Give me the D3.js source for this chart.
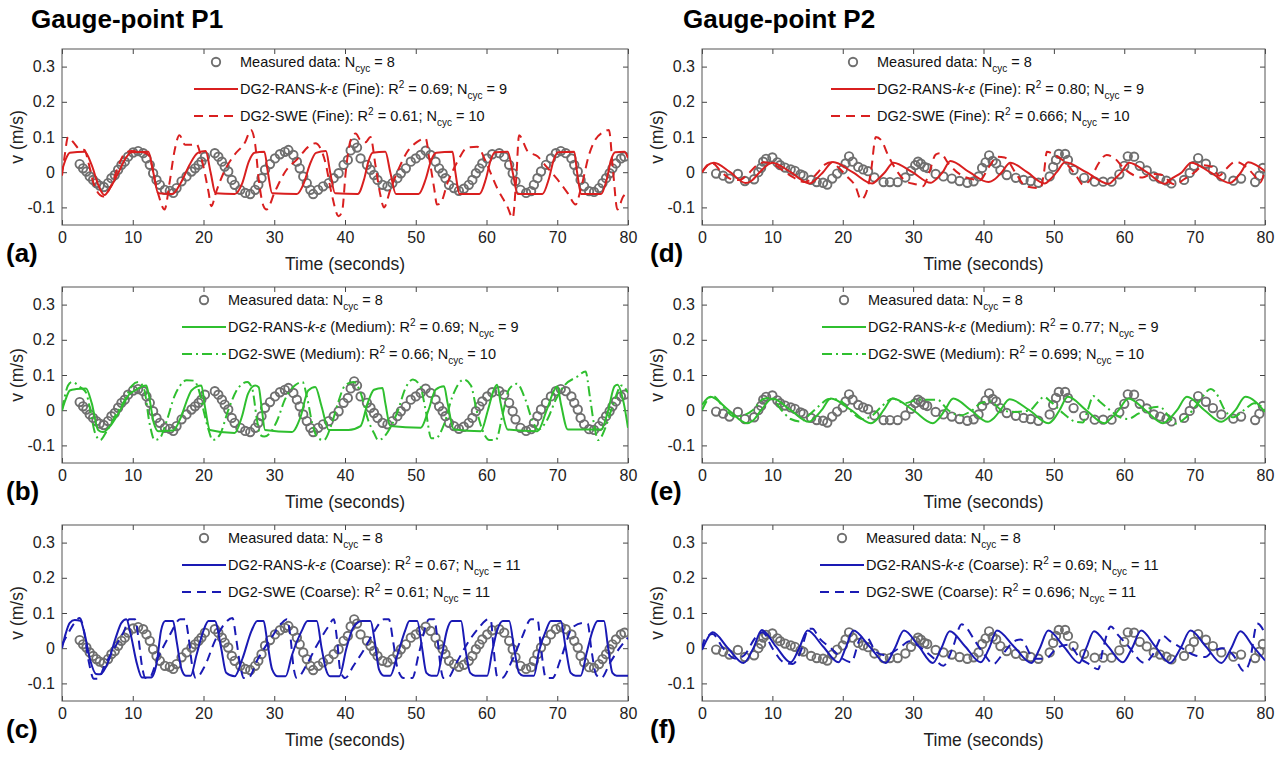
<!DOCTYPE html>
<html>
<head>
<meta charset="utf-8">
<script src="https://cdn.jsdelivr.net/npm/d3@7"></script>
<style>
  body { margin: 0; background: #fff; }
  svg { font-family: "Liberation Sans", Arial, sans-serif; }
  text { white-space: pre; }
</style>
</head>
<body>
<svg id="chart" width="1288" height="769"></svg>
<script>
// ticks
const timeTicks = [0, 10, 20, 30, 40, 50, 60, 70, 80];
const velTicks = [-0.1, 0, 0.1, 0.2, 0.3];

// measured velocity, [time s, v m/s]
const measuredP1 = [[2.5,0.023],[2.97,0.011],[3.45,0.002],[3.92,-0.012],[4.39,-0.022],[4.86,-0.031],[5.33,-0.038],[5.9,-0.042],[6.51,-0.031],[6.98,-0.017],[7.46,-0.008],[7.93,0.007],[8.4,0.021],[8.87,0.03],[9.34,0.044],[10.05,0.056],[10.76,0.06],[11.47,0.054],[11.94,0.039],[12.41,0.021],[12.88,-0.003],[13.36,-0.022],[13.83,-0.036],[14.54,-0.05],[15.24,-0.053],[15.72,-0.059],[16.19,-0.045],[16.9,-0.026],[17.6,-0.012],[18.3,0.002],[18.8,0.011],[19.3,0.021],[19.7,0.03],[20.2,0.044],[21.6,0.054],[22.1,0.044],[22.6,0.03],[23.0,0.016],[23.5,0.002],[24.0,-0.022],[24.4,-0.036],[25.2,-0.05],[25.9,-0.059],[26.6,-0.062],[27.3,-0.05],[27.75,-0.036],[28.2,-0.017],[28.7,0.007],[29.4,0.023],[30.1,0.039],[30.8,0.051],[31.5,0.058],[32.0,0.063],[32.7,0.049],[33.2,0.03],[33.6,0.011],[34.1,-0.012],[34.6,-0.031],[35.1,-0.05],[35.5,-0.062],[36.2,-0.05],[36.9,-0.04],[37.7,-0.031],[38.4,-0.017],[39.1,-0.003],[39.8,0.021],[40.4,0.035],[40.8,0.062],[41.3,0.082],[41.7,0.07],[42.2,0.039],[43.1,0.021],[43.6,0.007],[44.1,-0.008],[44.6,-0.022],[45.3,-0.036],[46.0,-0.04],[46.7,-0.031],[47.4,-0.017],[47.9,-0.003],[48.6,0.011],[49.3,0.03],[50.0,0.039],[50.7,0.049],[51.4,0.061],[52.1,0.049],[52.8,0.03],[53.3,0.011],[53.8,-0.003],[54.2,-0.017],[54.7,-0.036],[55.4,-0.045],[56.1,-0.053],[56.8,-0.047],[57.5,-0.036],[58.0,-0.022],[58.5,-0.003],[59.0,0.011],[59.4,0.025],[60.1,0.039],[60.8,0.051],[61.8,0.054],[62.5,0.044],[63.2,0.021],[63.7,-0.003],[64.1,-0.026],[64.8,-0.05],[65.6,-0.059],[66.3,-0.054],[66.7,-0.036],[67.2,-0.017],[67.7,0.002],[68.4,0.021],[69.1,0.039],[69.8,0.054],[70.5,0.06],[71.2,0.054],[72.0,0.039],[72.4,0.021],[72.9,0.002],[73.3,-0.022],[73.8,-0.04],[74.5,-0.054],[75.2,-0.056],[75.9,-0.045],[76.4,-0.031],[76.9,-0.017],[77.4,-0.003],[77.8,0.011],[78.3,0.025],[79.0,0.039],[79.5,0.044]];

const measuredP2 = [[2.0,-0.004],[3.0,-0.01],[3.9,-0.018],[5.1,-0.005],[6.1,-0.025],[7.4,-0.02],[8.0,0.0],[8.4,0.012],[8.7,0.03],[9.1,0.038],[10.0,0.042],[10.7,0.028],[11.1,0.02],[11.8,0.013],[12.6,0.008],[13.2,0.004],[14.0,-0.006],[14.4,-0.01],[15.5,-0.022],[16.3,-0.028],[17.2,-0.03],[17.8,-0.035],[18.5,-0.018],[19.2,-0.004],[20.0,0.008],[20.4,0.025],[20.9,0.045],[21.4,0.03],[22.2,0.015],[22.9,0.008],[23.6,0.003],[24.5,-0.015],[25.8,-0.028],[26.7,-0.028],[27.8,-0.028],[28.9,-0.015],[29.7,0.004],[30.3,0.02],[30.7,0.03],[31.1,0.024],[31.6,0.015],[32.0,0.012],[33.2,-0.005],[34.3,-0.012],[35.5,-0.018],[36.6,-0.025],[37.7,-0.03],[38.6,-0.026],[39.3,-0.012],[39.8,0.012],[40.3,0.028],[40.8,0.048],[41.3,0.032],[41.8,0.025],[42.4,0.006],[43.3,-0.008],[44.6,-0.016],[45.7,-0.022],[46.7,-0.025],[47.8,-0.03],[49.4,-0.012],[49.9,0.015],[50.3,0.035],[50.7,0.052],[51.6,0.052],[52.0,0.035],[52.8,0.006],[54.3,-0.016],[55.8,-0.027],[57.0,-0.027],[58.2,-0.027],[59.3,-0.006],[60.0,0.018],[60.5,0.045],[61.4,0.044],[62.2,0.018],[63.2,0.005],[64.2,-0.012],[65.1,-0.018],[66.0,-0.024],[66.7,-0.032],[68.5,-0.022],[69.3,-0.002],[69.9,0.018],[70.5,0.04],[71.6,0.024],[72.6,0.006],[73.8,-0.012],[75.5,-0.024],[76.6,-0.018],[78.6,-0.028],[79.2,-0.01],[79.7,0.012]];

// model runs at gauge P1
const ransFineP1 = [[0,0.005],[0.6,0.04],[1.1,0.055],[3.2,0.058],[4.2,0.02],[5.2,-0.04],[6.0,-0.065],[6.8,-0.045],[8.0,0.0],[9.0,0.04],[9.8,0.057],[12.2,0.058],[12.9,0.0],[13.6,-0.06],[15.6,-0.062],[16.8,-0.03],[18.0,0.02],[19.2,0.055],[20.3,0.06],[21.0,0.0],[21.7,-0.06],[24.4,-0.062],[25.5,-0.03],[26.4,0.03],[27.2,0.055],[28.6,0.058],[29.1,0.0],[29.7,-0.06],[33.2,-0.062],[34.2,-0.03],[35.0,0.02],[35.9,0.055],[37.3,0.06],[37.9,0.0],[38.6,-0.06],[41.8,-0.062],[42.7,-0.02],[43.3,0.03],[43.9,0.055],[45.7,0.058],[46.4,0.0],[47.2,-0.062],[50.4,-0.062],[51.4,-0.02],[52.2,0.035],[52.9,0.055],[55.2,0.058],[55.6,0.0],[56.2,-0.062],[59.0,-0.062],[59.9,-0.02],[60.6,0.035],[61.2,0.057],[63.0,0.058],[63.7,0.0],[64.4,-0.062],[67.9,-0.062],[68.8,-0.02],[69.5,0.035],[70.1,0.057],[72.4,0.058],[72.8,0.0],[73.4,-0.062],[76.2,-0.062],[77.0,-0.02],[77.6,0.035],[78.2,0.057],[79.5,0.058],[80,0.04]];
const sweFineP1 = [[0,-0.01],[0.4,0.05],[0.85,0.1],[1.6,0.085],[2.5,0.065],[3.2,0.063],[3.7,0.03],[4.6,-0.04],[5.8,-0.069],[6.9,-0.04],[8.2,0.03],[8.9,0.054],[9.8,0.06],[11.2,0.058],[12.2,0.05],[13.5,-0.055],[14.5,-0.106],[15.2,-0.03],[15.9,0.06],[16.6,0.105],[17.4,0.078],[18.3,0.078],[19.0,0.08],[19.7,0.04],[20.7,-0.055],[21.1,-0.097],[21.8,-0.055],[23.0,0.005],[24.4,0.05],[25.9,0.086],[26.7,0.12],[27.3,0.08],[27.8,-0.02],[28.5,-0.097],[28.9,-0.106],[30.1,-0.055],[31.5,0.0],[33.4,0.04],[34.8,0.072],[35.8,0.082],[37.2,0.03],[38.1,-0.06],[39.1,-0.125],[39.6,-0.11],[40.1,0.0],[40.8,0.091],[41.5,0.11],[42.2,0.09],[42.9,0.085],[43.6,0.1],[44.3,0.02],[45.0,-0.065],[45.5,-0.1],[46.4,-0.05],[47.6,0.01],[48.8,0.058],[50.2,0.086],[51.4,0.096],[51.9,0.04],[52.6,-0.045],[53.0,-0.092],[53.5,-0.088],[54.5,-0.03],[55.9,0.03],[57.3,0.07],[58.7,0.072],[60.1,0.02],[61.5,-0.045],[63.0,-0.1],[63.7,-0.13],[64.2,-0.02],[64.6,0.105],[65.8,0.06],[67.2,0.045],[68.5,0.015],[70.0,-0.02],[71.5,-0.06],[72.6,-0.092],[73.3,-0.05],[74.5,0.05],[75.2,0.086],[76.6,0.115],[77.3,0.12],[77.9,0.0],[78.5,-0.106],[79.3,-0.07],[80,-0.055]];
const ransMediumP1 = [[0,0.0],[0.5,0.03],[1.1,0.056],[2.0,0.06],[3.4,0.062],[4.2,0.02],[5.1,-0.056],[5.8,-0.062],[7.0,-0.04],[8.5,0.01],[9.5,0.045],[10.3,0.056],[11.9,0.07],[12.2,0.05],[13.0,-0.038],[13.6,-0.06],[15.7,-0.058],[16.8,-0.02],[17.8,0.035],[18.3,0.056],[19.7,0.07],[20.2,0.01],[20.9,-0.056],[24.4,-0.065],[25.4,-0.02],[26.3,0.047],[27.3,0.07],[27.8,0.065],[28.2,0.01],[28.7,-0.056],[32.5,-0.062],[33.7,-0.02],[34.8,0.056],[35.8,0.066],[36.7,0.01],[37.7,-0.056],[40.5,-0.056],[42.2,-0.045],[43.2,0.02],[44.1,0.058],[45.3,0.063],[45.7,0.02],[46.4,-0.045],[50.7,-0.05],[51.8,0.0],[52.8,0.058],[54.0,0.068],[54.5,0.02],[55.4,-0.055],[59.2,-0.06],[60.2,0.0],[61.1,0.061],[61.5,0.072],[62.0,0.02],[63.0,-0.055],[67.2,-0.06],[68.5,0.0],[69.6,0.058],[70.0,0.068],[70.5,0.02],[71.5,-0.055],[76.2,-0.055],[77.2,0.0],[78.1,0.068],[78.5,0.072],[79.4,0.02],[80,-0.05]];
const sweMediumP1 = [[0,0.0],[0.4,0.04],[0.85,0.07],[1.4,0.08],[2.6,0.065],[3.4,0.05],[4.0,0.0],[4.6,-0.06],[5.4,-0.085],[6.3,-0.06],[7.7,-0.01],[8.9,0.03],[9.9,0.07],[10.8,0.08],[11.6,0.06],[12.4,-0.04],[13.1,-0.085],[13.8,-0.08],[14.8,-0.03],[15.9,0.04],[16.7,0.07],[17.6,0.085],[18.6,0.084],[19.3,0.06],[20.0,0.0],[20.7,-0.055],[21.3,-0.085],[22.3,-0.07],[23.5,0.0],[24.8,0.06],[26.2,0.08],[26.9,0.06],[27.5,-0.02],[28.0,-0.07],[28.6,-0.075],[30.4,-0.03],[31.5,0.03],[32.9,0.07],[34.0,0.08],[34.6,0.04],[35.4,-0.04],[36.2,-0.08],[37.0,-0.085],[38.1,-0.04],[39.0,0.02],[40.0,0.07],[41.2,0.08],[42.2,0.05],[43.3,-0.03],[44.1,-0.065],[44.7,-0.085],[46.4,-0.05],[47.5,0.0],[48.5,0.06],[49.6,0.087],[50.6,0.07],[51.4,0.0],[52.2,-0.08],[52.8,-0.08],[54.0,-0.04],[55.2,0.04],[56.8,0.087],[57.8,0.07],[58.6,0.0],[59.5,-0.06],[60.4,-0.085],[61.3,-0.085],[62.3,-0.01],[63.2,0.06],[64.3,0.075],[65.5,0.03],[66.5,-0.03],[67.3,-0.055],[68.5,-0.03],[69.8,0.03],[71.0,0.07],[72.8,0.095],[74.0,0.11],[74.6,0.04],[75.2,-0.04],[75.8,-0.085],[76.8,-0.05],[77.8,0.01],[79.1,0.07],[80,0.05]];
const ransCoarseP1 = [[0,0.0],[0.5,0.04],[1.1,0.072],[1.8,0.08],[2.6,0.078],[3.2,0.04],[4.0,-0.035],[4.8,-0.073],[5.4,-0.074],[6.5,-0.04],[7.6,0.03],[8.4,0.072],[9.1,0.082],[9.7,0.04],[10.6,-0.045],[11.3,-0.083],[12.6,-0.083],[13.4,-0.04],[14.0,0.05],[14.6,0.077],[15.7,0.077],[16.2,0.02],[16.9,-0.06],[17.5,-0.078],[18.2,-0.078],[19.0,-0.02],[20.0,0.05],[20.7,0.077],[21.6,0.077],[22.5,0.0],[23.2,-0.07],[24.4,-0.08],[25.5,-0.03],[26.8,0.05],[27.6,0.077],[28.5,0.077],[29.0,0.02],[29.7,-0.06],[30.5,-0.08],[31.6,-0.08],[32.5,-0.02],[33.9,0.05],[34.7,0.077],[36.0,0.077],[36.7,0.0],[37.3,-0.06],[37.9,-0.08],[39.2,-0.08],[40.2,0.0],[41.2,0.06],[42.4,0.077],[43.6,0.077],[44.2,0.02],[44.8,-0.06],[45.5,-0.078],[46.4,-0.078],[47.4,-0.02],[48.5,0.05],[49.1,0.077],[50.2,0.077],[50.9,0.0],[51.5,-0.07],[52.2,-0.078],[53.0,-0.078],[53.7,-0.02],[54.4,0.05],[55.1,0.077],[56.4,0.077],[57.0,0.0],[57.7,-0.07],[58.4,-0.078],[60.1,-0.078],[60.8,-0.01],[61.5,0.05],[62.3,0.077],[63.2,0.077],[63.9,0.0],[64.6,-0.07],[65.2,-0.078],[66.7,-0.078],[67.4,-0.01],[68.4,0.05],[69.1,0.077],[70.5,0.077],[71.2,0.0],[71.9,-0.07],[72.6,-0.078],[73.3,-0.078],[74.2,-0.01],[75.0,0.05],[75.7,0.077],[76.6,0.077],[77.2,0.0],[77.8,-0.07],[78.4,-0.078],[80,-0.078]];
const sweCoarseP1 = [[0,0.01],[0.8,0.04],[1.7,0.07],[2.5,0.086],[3.0,0.06],[3.8,-0.04],[4.5,-0.087],[5.1,-0.087],[6.0,-0.05],[7.4,0.0],[8.8,0.05],[9.5,0.082],[10.3,0.082],[10.8,0.03],[11.3,-0.05],[11.8,-0.085],[12.3,-0.085],[13.5,-0.03],[15.3,0.04],[16.7,0.082],[17.4,0.082],[17.9,0.03],[18.4,-0.05],[18.9,-0.085],[20.2,-0.05],[21.6,0.02],[23.0,0.07],[24.1,0.086],[24.6,0.03],[25.2,-0.05],[25.7,-0.085],[26.3,-0.085],[27.7,-0.03],[29.6,0.03],[31.0,0.07],[31.8,0.082],[32.3,0.03],[32.7,-0.05],[33.2,-0.085],[34.5,-0.05],[35.8,0.0],[37.6,0.06],[38.4,0.082],[38.9,0.02],[39.3,-0.06],[40.0,-0.085],[41.2,-0.05],[42.8,0.0],[44.2,0.05],[45.5,0.082],[46.2,0.082],[46.8,0.02],[47.4,-0.055],[48.3,-0.085],[49.5,-0.085],[50.5,-0.01],[51.9,0.082],[52.6,0.082],[53.1,0.02],[53.5,-0.05],[53.9,-0.085],[54.5,-0.085],[55.8,-0.04],[57.5,0.02],[59.0,0.06],[60.2,0.082],[60.6,0.08],[61.0,0.0],[61.5,-0.08],[62.2,-0.085],[63.5,-0.04],[65.0,0.03],[66.3,0.082],[67.2,0.082],[67.7,0.0],[68.4,-0.085],[69.3,-0.085],[70.5,-0.03],[72.2,0.06],[73.8,0.072],[74.3,0.07],[74.8,0.0],[75.5,-0.075],[76.2,-0.085],[77.5,-0.04],[78.8,0.0],[80,0.03]];

// model runs at gauge P2
const ransFineP2 = [[0,0.0],[0.8,0.02],[1.7,0.027],[4.0,0.0],[6.2,-0.031],[7.0,-0.025],[8.2,0.0],[10.0,0.027],[12.6,0.0],[15.3,-0.032],[16.2,-0.02],[17.2,0.0],[18.6,0.029],[21.4,0.0],[24.2,-0.032],[25.0,-0.02],[26.0,0.0],[27.2,0.027],[29.9,0.0],[32.5,-0.03],[33.4,-0.018],[34.2,0.0],[35.3,0.032],[38.0,0.0],[40.7,-0.028],[41.6,-0.02],[42.6,0.0],[43.8,0.027],[46.2,0.0],[48.7,-0.032],[49.5,-0.02],[50.4,0.0],[51.6,0.028],[54.6,0.0],[57.8,-0.033],[58.6,-0.02],[59.6,0.0],[60.7,0.027],[63.2,0.0],[65.8,-0.033],[66.6,-0.02],[68.2,0.0],[69.5,0.027],[72.2,0.0],[75.0,-0.031],[75.8,-0.02],[76.6,0.0],[77.6,0.028],[80,0.003]];
const sweFineP2 = [[0,0.0],[0.8,0.02],[1.5,0.025],[2.8,0.0],[4.2,-0.02],[5.3,-0.022],[6.3,-0.01],[7.7,0.018],[8.8,0.028],[9.8,0.025],[11.5,0.005],[13.0,-0.015],[14.5,-0.028],[15.5,-0.02],[16.5,0.0],[17.5,0.022],[18.4,0.028],[19.3,0.015],[20.5,-0.01],[21.8,-0.04],[22.6,-0.078],[23.3,-0.06],[24.0,0.0],[24.7,0.1],[25.5,0.09],[26.4,0.05],[27.3,0.016],[29.0,-0.026],[30.5,-0.035],[31.4,-0.04],[32.3,0.0],[33.2,0.05],[33.8,0.054],[35.2,0.02],[36.8,-0.008],[38.5,-0.02],[39.5,-0.022],[40.8,0.016],[42.0,0.044],[43.0,0.042],[44.5,0.0],[46.0,-0.04],[48.1,-0.045],[48.6,0.0],[49.0,0.058],[50.1,0.049],[51.5,0.03],[53.1,-0.008],[54.2,-0.036],[55.2,-0.02],[56.2,0.02],[57.5,0.049],[58.6,0.04],[60.0,0.01],[61.5,-0.01],[62.6,-0.015],[64.0,-0.005],[65.4,-0.008],[66.6,-0.03],[67.3,-0.035],[68.5,-0.02],[70.0,0.0],[71.3,0.02],[72.5,0.015],[73.5,-0.01],[74.5,0.01],[75.8,0.03],[77.0,0.02],[78.5,-0.01],[79.3,-0.03],[80,0.01]];
const ransMediumP2 = [[0,0.015],[1.2,0.038],[3.8,0.0],[6.4,-0.037],[7.2,-0.03],[8.4,0.0],[10.0,0.033],[12.6,0.0],[15.2,-0.033],[16.0,-0.022],[17.0,0.0],[18.3,0.033],[21.2,0.0],[24.0,-0.037],[24.9,-0.025],[25.8,0.0],[27.1,0.033],[30.0,0.0],[32.8,-0.037],[33.6,-0.025],[34.5,0.0],[35.7,0.033],[38.2,0.0],[40.6,-0.033],[41.5,-0.022],[42.4,0.0],[43.7,0.031],[46.5,0.0],[49.2,-0.037],[50.0,-0.025],[50.8,0.0],[52.0,0.038],[54.6,0.0],[57.2,-0.037],[58.0,-0.025],[59.2,0.0],[60.6,0.033],[63.0,0.0],[65.5,-0.037],[66.4,-0.025],[67.5,0.0],[68.9,0.038],[71.4,0.0],[73.8,-0.033],[74.7,-0.022],[75.8,0.0],[77.2,0.038],[80,-0.005]];
const sweMediumP2 = [[0,0.0],[0.8,0.03],[1.6,0.04],[3.0,0.01],[4.6,-0.018],[5.8,-0.015],[7.2,0.0],[8.7,0.032],[9.8,0.035],[11.3,0.0],[12.6,-0.025],[14.0,-0.032],[15.4,-0.01],[16.8,0.015],[18.0,0.032],[19.4,0.03],[21.0,0.0],[22.8,-0.025],[24.2,-0.015],[25.5,0.01],[27.1,0.033],[28.8,0.02],[30.8,0.03],[33.4,0.03],[35.0,0.0],[36.7,-0.015],[38.4,0.0],[39.6,0.02],[41.0,0.025],[42.6,0.0],[44.5,-0.005],[46.6,0.0],[47.8,0.025],[48.6,0.038],[49.5,0.025],[51.4,-0.01],[53.1,-0.033],[54.1,-0.035],[54.8,0.0],[55.6,0.04],[56.5,0.025],[58.0,0.0],[59.4,-0.02],[60.5,-0.025],[62.0,-0.01],[63.5,0.005],[65.0,0.01],[66.6,-0.025],[67.3,-0.038],[68.8,-0.02],[70.5,0.02],[72.3,0.06],[73.0,0.05],[74.3,0.0],[75.5,-0.02],[77.0,0.0],[78.5,0.02],[80,0.0]];
const ransCoarseP2 = [[0,-0.005],[0.7,0.025],[1.5,0.045],[3.7,0.0],[5.9,-0.042],[7.3,0.0],[8.5,0.052],[10.5,0.005],[12.6,-0.04],[13.8,0.0],[15.0,0.05],[17.2,0.005],[19.4,-0.04],[20.4,0.0],[21.5,0.05],[23.8,0.005],[26.1,-0.042],[27.4,0.0],[28.7,0.05],[30.8,0.005],[32.8,-0.042],[34.0,0.0],[35.2,0.048],[37.4,0.005],[39.6,-0.04],[40.8,0.0],[41.9,0.05],[44.3,0.005],[46.8,-0.042],[48.0,0.0],[49.2,0.05],[51.4,0.005],[53.6,-0.042],[54.6,0.0],[55.7,0.048],[57.7,0.005],[59.8,-0.04],[61.1,0.0],[62.4,0.05],[64.4,0.005],[66.5,-0.042],[68.0,0.0],[69.4,0.05],[71.6,0.005],[73.8,-0.042],[75.2,0.0],[76.5,0.048],[78.3,0.005],[80,-0.035]];
const sweCoarseP2 = [[0,0.0],[0.5,0.03],[1.5,0.04],[3.0,0.0],[4.8,-0.03],[6.0,-0.02],[7.6,0.03],[8.6,0.045],[10.0,0.0],[11.6,-0.04],[12.9,-0.045],[14.0,-0.01],[15.2,0.055],[15.7,0.055],[16.6,0.03],[18.3,0.0],[20.0,-0.03],[21.2,-0.04],[22.6,0.03],[23.4,0.03],[24.7,-0.01],[26.0,-0.02],[28.0,0.0],[29.5,0.02],[31.2,0.0],[33.0,-0.03],[34.3,-0.05],[35.6,0.0],[36.9,0.068],[37.5,0.06],[38.8,0.02],[40.2,-0.02],[41.4,-0.045],[42.6,-0.02],[44.4,0.02],[45.3,0.025],[47.2,-0.03],[48.8,-0.03],[50.4,0.0],[52.0,0.01],[53.8,-0.03],[55.0,-0.045],[56.3,-0.06],[57.0,0.0],[58.1,0.062],[59.0,0.04],[60.4,0.01],[62.9,-0.042],[64.0,-0.02],[65.5,0.035],[66.5,0.02],[68.2,0.0],[70.0,-0.02],[71.5,-0.025],[72.5,-0.01],[74.0,0.0],[75.5,-0.02],[77.0,-0.065],[77.8,-0.04],[78.9,0.07],[79.5,0.06],[80,0.04]];

// legend numbers per panel (a)..(f)
const panelLetters = ["(a)", "(b)", "(c)", "(d)", "(e)", "(f)"];
const meshNames = ["Fine", "Medium", "Coarse", "Fine", "Medium", "Coarse"];
const ransR2 = ["0.69", "0.69", "0.67", "0.80", "0.77", "0.69"];
const ransNcyc = ["9", "9", "11", "9", "9", "11"];
const sweR2 = ["0.61", "0.66", "0.61", "0.666", "0.699", "0.696"];
const sweNcyc = ["10", "10", "11", "10", "10", "11"];
const measuredNcyc = "8";

const ransSeries = [ransFineP1, ransMediumP1, ransCoarseP1, ransFineP2, ransMediumP2, ransCoarseP2];
const sweSeries = [sweFineP1, sweMediumP1, sweCoarseP1, sweFineP2, sweMediumP2, sweCoarseP2];
const measuredSeries = [measuredP1, measuredP1, measuredP1, measuredP2, measuredP2, measuredP2];

// layout
const colX = [[62, 628], [702, 1265]];
const rowTop = [49, 287, 525];
const boxH = 176;
const legendLeft = [194, 182, 182, 831, 822, 820];
const meshColors = ["#d91f1f", "#2fbf2f", "#1a1ab4"];
const sweDashes = ["9,6", "10,4,2,4", "9,6"];
const markerColor = "#6f6f6f";

const svg = d3.select("#chart");

svg.append("text").attr("x", 31).attr("y", 28)
  .attr("font-size", 26).attr("font-weight", "bold").text("Gauge-point P1");
svg.append("text").attr("x", 683).attr("y", 28)
  .attr("font-size", 26).attr("font-weight", "bold").text("Gauge-point P2");

function richText(g, x, y, parts) {
  const t = g.append("text").attr("x", x).attr("y", y).attr("font-size", 14.5).attr("fill", "#111");
  let shift = 0;
  parts.forEach(([str, kind]) => {
    const target = kind === "sup" ? -6 : kind === "sub" ? 5 : 0;
    const sp = t.append("tspan").attr("dy", target - shift).text(str);
    shift = target;
    if (kind === "sup" || kind === "sub") sp.attr("font-size", 10);
    if (kind === "it") sp.attr("font-style", "italic");
  });
}

for (let p = 0; p < 6; p++) {
  const col = p < 3 ? 0 : 1;
  const row = p % 3;
  const [x0, x1] = colX[col];
  const y0 = rowTop[row], y1 = y0 + boxH;
  const color = meshColors[row];

  const x = d3.scaleLinear().domain([0, 80]).range([x0, x1]);
  const y = d3.scaleLinear().domain([-0.15, 0.35]).range([y1, y0]);

  const g = svg.append("g");

  g.append("clipPath").attr("id", "clip" + p)
    .append("rect").attr("x", x0).attr("y", y0).attr("width", x1 - x0).attr("height", boxH);

  // axes
  const styleAxis = sel => {
    sel.select(".domain").remove();
    sel.selectAll(".tick line").attr("stroke", "#444");
    sel.selectAll(".tick text").attr("fill", "#222");
    sel.attr("font-family", null).attr("font-size", 16);
  };
  g.append("g").attr("transform", `translate(0,${y1})`)
    .call(d3.axisBottom(x).tickValues(timeTicks).tickSizeInner(-5).tickSizeOuter(0).tickPadding(7))
    .call(styleAxis);
  g.append("g").attr("transform", `translate(0,${y0})`)
    .call(d3.axisTop(x).tickValues(timeTicks).tickSizeInner(-5).tickSizeOuter(0).tickFormat(""))
    .call(styleAxis);
  g.append("g").attr("transform", `translate(${x0},0)`)
    .call(d3.axisLeft(y).tickValues(velTicks).tickSizeInner(-5).tickSizeOuter(0).tickPadding(7).tickFormat(d => String(d)))
    .call(styleAxis);
  g.append("g").attr("transform", `translate(${x1},0)`)
    .call(d3.axisRight(y).tickValues(velTicks).tickSizeInner(-5).tickSizeOuter(0).tickFormat(""))
    .call(styleAxis);

  g.append("rect").attr("x", x0).attr("y", y0).attr("width", x1 - x0).attr("height", boxH)
    .attr("fill", "none").attr("stroke", "#555").attr("stroke-width", 1);

  // axis titles and panel letter
  g.append("text").attr("x", (x0 + x1) / 2).attr("y", y1 + 45)
    .attr("text-anchor", "middle").attr("font-size", 17.5).attr("fill", "#222").text("Time (seconds)");
  g.append("text")
    .attr("transform", `translate(${x0 - 39},${(y0 + y1) / 2}) rotate(-90)`)
    .attr("text-anchor", "middle").attr("font-size", 17.5).attr("fill", "#222").text("v (m/s)");
  g.append("text").attr("x", col === 0 ? 6 : 650).attr("y", y1 + 37)
    .attr("font-size", 26).attr("font-weight", "bold").text(panelLetters[p]);

  // data
  const plot = g.append("g").attr("clip-path", `url(#clip${p})`);

  plot.selectAll("circle").data(measuredSeries[p]).enter().append("circle")
    .attr("cx", d => x(d[0])).attr("cy", d => y(d[1])).attr("r", 4.2)
    .attr("fill", "none").attr("stroke", markerColor).attr("stroke-width", 1.9);

  const line = d3.line().x(d => x(d[0])).y(d => y(d[1])).curve(d3.curveMonotoneX);

  plot.append("path").datum(ransSeries[p]).attr("d", line)
    .attr("fill", "none").attr("stroke", color).attr("stroke-width", 2);
  plot.append("path").datum(sweSeries[p]).attr("d", line)
    .attr("fill", "none").attr("stroke", color).attr("stroke-width", 2)
    .attr("stroke-dasharray", sweDashes[row]);

  // legend
  const L = legendLeft[p];
  const r1 = y0 + 13, r2 = y0 + 40, r3 = y0 + 67;
  const leg = g.append("g");
  leg.append("circle").attr("cx", L + 22).attr("cy", r1).attr("r", 4.2)
    .attr("fill", "none").attr("stroke", markerColor).attr("stroke-width", 1.9);
  richText(leg, L + 46, r1 + 5, [["Measured data: N", ""], ["cyc", "sub"], [" = " + measuredNcyc, ""]]);
  leg.append("line").attr("x1", L).attr("x2", L + 44).attr("y1", r2).attr("y2", r2)
    .attr("stroke", color).attr("stroke-width", 2);
  richText(leg, L + 46, r2 + 5, [["DG2-RANS-", ""], ["k", "it"], ["-", ""], ["ε", "it"],
    [" (" + meshNames[p] + "): R", ""], ["2", "sup"], [" = " + ransR2[p] + "; N", ""], ["cyc", "sub"], [" = " + ransNcyc[p], ""]]);
  leg.append("line").attr("x1", L).attr("x2", L + 44).attr("y1", r3).attr("y2", r3)
    .attr("stroke", color).attr("stroke-width", 2).attr("stroke-dasharray", sweDashes[row]);
  richText(leg, L + 46, r3 + 5, [["DG2-SWE (" + meshNames[p] + "): R", ""], ["2", "sup"],
    [" = " + sweR2[p] + "; N", ""], ["cyc", "sub"], [" = " + sweNcyc[p], ""]]);
}
</script>
</body>
</html>
